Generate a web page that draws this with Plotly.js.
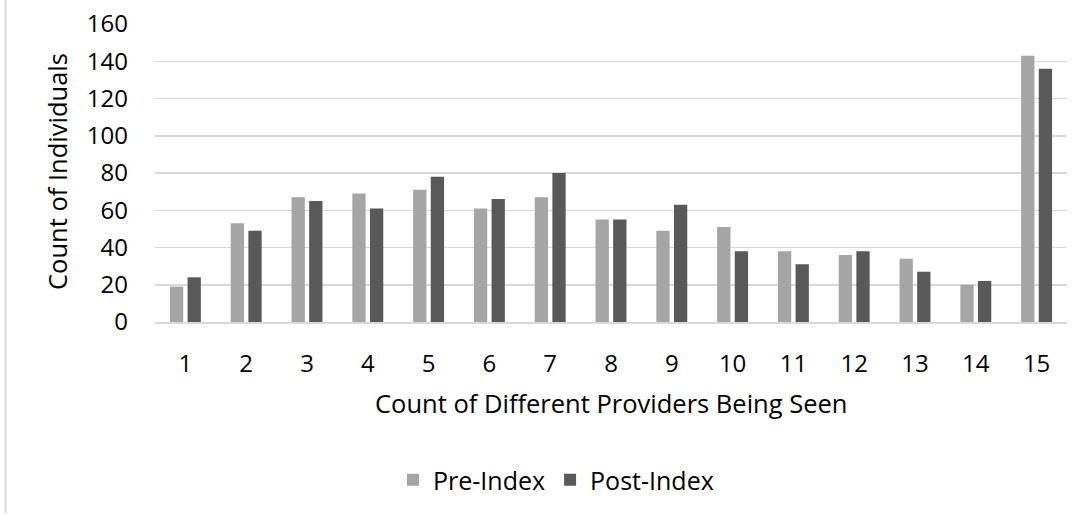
<!DOCTYPE html>
<html>
<head>
<meta charset="utf-8">
<script src="https://cdn.plot.ly/plotly-3.0.1.min.js"></script>
<style>
  html, body { margin: 0; padding: 0; background: #fff; }
  #chart { width: 1079px; height: 515px; }
</style>
</head>
<body>
<div id="chart"></div>
<script>
const categories = ["1","2","3","4","5","6","7","8","9","10","11","12","13","14","15"];
const preIndex  = [19, 53, 67, 69, 71, 61, 67, 55, 49, 51, 38, 36, 34, 20, 143];
const postIndex = [24, 49, 65, 61, 78, 66, 80, 55, 63, 38, 31, 38, 27, 22, 136];
const yTicks = [0, 20, 40, 60, 80, 100, 120, 140, 160];
const seriesNames = ["Pre-Index", "Post-Index"];
const xTitle = "Count of Different Providers Being Seen";
const yTitle = "Count of Individuals";

const FONT = "Open Sans, Noto Sans, sans-serif";
const W = 1079, H = 515;
const L = 155, R = 12, T = 24, B = 193;
const plotW = W - L - R, plotH = H - T - B;
const px2x = p => (p - L) / plotW;
const py2y = p => (H - B - p) / plotH;

const traces = [
  { type: "bar", name: seriesNames[0], x: categories, y: preIndex,
    marker: { color: "#A5A5A5" }, hoverinfo: "x+y+name" },
  { type: "bar", name: seriesNames[1], x: categories, y: postIndex,
    marker: { color: "#595959" }, hoverinfo: "x+y+name" }
];

const layout = {
  width: W, height: H,
  margin: { l: L, r: R, t: T, b: B, pad: 0 },
  paper_bgcolor: "#fff", plot_bgcolor: "#fff",
  font: { family: FONT, color: "#000", size: 24 },
  barmode: "group",
  bargap: 0.42,
  bargroupgap: 0.245,
  showlegend: true,
  legend: {
    orientation: "h", x: px2x(556), xanchor: "center", y: py2y(480), yanchor: "middle",
    font: { family: FONT, size: 25, color: "#000" }, traceorder: "normal",
    bgcolor: "rgba(0,0,0,0)", itemclick: false, itemdoubleclick: false
  },
  xaxis: {
    type: "category", showgrid: false, zeroline: false,
    showline: true, linecolor: "#D9D9D9", linewidth: 1.5,
    ticks: "", tickfont: { family: FONT, size: 24, color: "#000" },
    ticklabelstandoff: 20, automargin: false
  },
  yaxis: {
    range: [0, 160], tickvals: yTicks, ticktext: yTicks.map(String),
    showgrid: true, gridcolor: "#D9D9D9", gridwidth: 1.5,
    zeroline: false, showline: false, ticks: "",
    tickfont: { family: FONT, size: 24, color: "#000" },
    ticklabelstandoff: 26, automargin: false
  },
  annotations: [
    { text: xTitle, xref: "paper", yref: "paper", x: px2x(611), y: py2y(403),
      xanchor: "center", yanchor: "middle", showarrow: false,
      font: { family: FONT, size: 25.5, color: "#000" } },
    { text: yTitle, xref: "paper", yref: "paper", x: px2x(57), y: py2y(172),
      xanchor: "center", yanchor: "middle", showarrow: false, textangle: -90,
      font: { family: FONT, size: 25.5, color: "#000" } }
  ],
  shapes: [
    { type: "line", xref: "paper", yref: "paper",
      x0: px2x(5.5), x1: px2x(5.5), y0: py2y(0), y1: py2y(513),
      line: { color: "#D9D9D9", width: 2 } }
  ]
};

Plotly.newPlot("chart", traces, layout, { displayModeBar: false, staticPlot: true });
</script>
</body>
</html>
